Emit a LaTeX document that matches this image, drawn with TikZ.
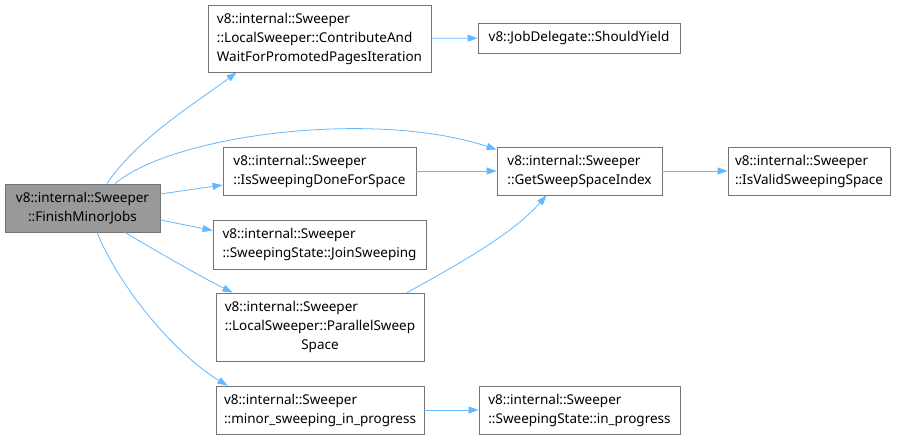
\documentclass[tikz,border=0pt]{standalone}
\usepackage{fontspec}
\setmainfont{Noto Sans}
\usetikzlibrary{arrows.meta}
\definecolor{edgeblue}{HTML}{63B8FF}
\definecolor{rootgray}{HTML}{999999}
\newcommand\fnlines[2]{\begin{tabular}{@{}c@{}}#1\hfill\mbox{}\\#2\end{tabular}}
\newcommand\fnthree[3]{\begin{tabular}{@{}c@{}}#1\hfill\mbox{}\\#2\hfill\mbox{}\\#3\end{tabular}}
\begin{document}
\begin{tikzpicture}[x=1bp,y=-1bp,>={Triangle[length=10bp,width=7bp]},
  fn/.style={draw=black!55,line width=0.8bp,fill=white,inner sep=0pt,
    font=\fontsize{13.5bp}{19bp}\selectfont},
  edge/.style={->,draw=edgeblue,line width=0.8bp}]
\useasboundingbox[fill=white](0,0)rectangle(899,440);
\node[fn,fill=rootgray,minimum width=155bp,minimum height=48bp](root)at(82.5,208){\fnlines{v8::internal::Sweeper}{::FinishMinorJobs}};
\node[fn,minimum width=223bp,minimum height=67bp](contrib)at(319.5,38.5){\fnthree{v8::internal::Sweeper}{::LocalSweeper::ContributeAnd}{WaitForPromotedPagesIteration}};
\node[fn,minimum width=202bp,minimum height=30bp](yield)at(579,38){v8::JobDelegate::ShouldYield};
\node[fn,minimum width=193bp,minimum height=48bp](done)at(319.5,171){\fnlines{v8::internal::Sweeper}{::IsSweepingDoneForSpace}};
\node[fn,minimum width=165bp,minimum height=48bp](index)at(579.5,171){\fnlines{v8::internal::Sweeper}{::GetSweepSpaceIndex}};
\node[fn,minimum width=162bp,minimum height=48bp](valid)at(809,171){\fnlines{v8::internal::Sweeper}{::IsValidSweepingSpace}};
\node[fn,minimum width=213bp,minimum height=49bp](join)at(319.5,244.5){\fnlines{v8::internal::Sweeper}{::SweepingState::JoinSweeping}};
\node[fn,minimum width=208bp,minimum height=68bp](parallel)at(320,327){\fnthree{v8::internal::Sweeper}{::LocalSweeper::ParallelSweep}{Space}};
\node[fn,minimum width=208bp,minimum height=48bp](minor)at(320,410){\fnlines{v8::internal::Sweeper}{::minor\_sweeping\_in\_progress}};
\node[fn,minimum width=201bp,minimum height=48bp](progress)at(579.5,410){\fnlines{v8::internal::Sweeper}{::SweepingState::in\_progress}};
\draw[edge]([xshift=24.5bp]root.north)..controls +(30,-45) and +(-40,30)..([xshift=29bp]contrib.south west);
\draw[edge]([xshift=32.5bp]root.north)..controls +(60,-50) and +(-120,-40)..([yshift=-3bp]index.north west);
\draw[edge]([yshift=14bp]root.east)--([yshift=-14bp]done.west);
\draw[edge]([yshift=-12bp]root.east)--([yshift=14bp]join.west);
\draw[edge]([xshift=42.5bp]root.south)..controls +(30,18) and +(-30,-15)..([xshift=17bp]parallel.north west);
\draw[edge]([xshift=14.5bp]root.south)..controls +(25,60) and +(-50,-30)..([xshift=12bp]minor.north west);
\draw[edge](contrib)--(yield);
\draw[edge](done)--(index);
\draw[edge](index)--(valid);
\draw[edge]([xshift=87bp]parallel.north)..controls +(45,-25) and +(-35,40)..([xshift=-33bp]index.south);
\draw[edge](minor)--(progress);
\end{tikzpicture}
\end{document}
